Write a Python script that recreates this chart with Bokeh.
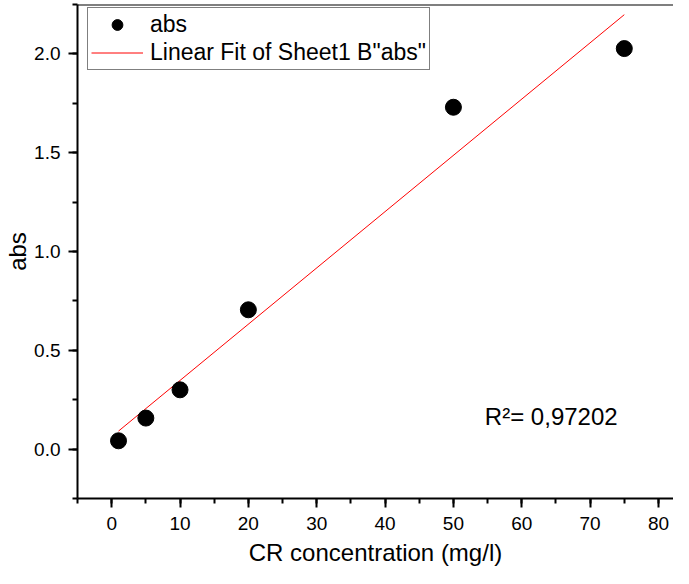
import numpy as np
from bokeh.plotting import figure
from bokeh.models import (ColumnDataSource, LinearAxis, SingleIntervalTicker, Span,
                          Legend, LegendItem, Label, Range1d, NumeralTickFormatter)
from bokeh.embed import file_html
from bokeh.resources import INLINE

# ---- data ----
conc = [1, 5, 10, 20, 50, 75]
absorb = [0.042, 0.157, 0.30, 0.705, 1.73, 2.027]
x_ticks_interval = 10
y_ticks_interval = 0.5
r2_text = "R\u00b2= 0,97202"
legend_labels = ["abs", 'Linear Fit of Sheet1 B"abs"']
x_title = "CR concentration (mg/l)"
y_title = "abs"

# linear fit from data
slope, intercept = np.polyfit(conc, absorb, 1)
fit_x = [min(conc), max(conc)]
fit_y = [slope * v + intercept for v in fit_x]

FONT = "Liberation Sans"

p = figure(width=673, height=568, output_backend="svg", toolbar_location=None,
           x_range=Range1d(-5, 82.2), y_range=Range1d(-0.25, 2.25),
           min_border_left=77, min_border_right=0, min_border_top=4, min_border_bottom=68,
           x_axis_location=None, y_axis_location=None)
p.grid.visible = False
p.outline_line_color = None
p.background_fill_color = "white"
p.border_fill_color = "white"

xaxis = LinearAxis(ticker=SingleIntervalTicker(interval=x_ticks_interval, num_minor_ticks=2),
                   axis_label=x_title)
yaxis = LinearAxis(ticker=SingleIntervalTicker(interval=y_ticks_interval, num_minor_ticks=2),
                   axis_label=y_title, formatter=NumeralTickFormatter(format="0.0"))
for ax in (xaxis, yaxis):
    ax.axis_line_width = 2
    ax.axis_line_color = "black"
    ax.major_tick_line_width = 2
    ax.minor_tick_line_width = 2
    ax.major_tick_line_color = "black"
    ax.minor_tick_line_color = "black"
    ax.major_tick_out = 9
    ax.major_tick_in = 0
    ax.minor_tick_out = 5
    ax.minor_tick_in = 0
    ax.major_label_text_font = FONT
    ax.major_label_text_font_size = "19px"
    ax.major_label_text_color = "black"
    ax.axis_label_text_font = FONT
    ax.axis_label_text_font_size = "24px"
    ax.axis_label_text_font_style = "normal"
    ax.axis_label_text_color = "black"
xaxis.major_label_standoff = 9
xaxis.axis_label_standoff = 6
yaxis.major_label_standoff = 8
yaxis.axis_label_standoff = 0
p.add_layout(xaxis, "below")
p.add_layout(yaxis, "left")

# top frame border
p.add_layout(Span(location=p.y_range.end, dimension="width",
                  line_color="black", line_width=2))

src = ColumnDataSource(dict(x=conc, y=absorb))
fit_src = ColumnDataSource(dict(x=fit_x, y=fit_y))
fit_r = p.line("x", "y", source=fit_src, line_color="#ff0000", line_width=1)
pts_r = p.scatter("x", "y", source=src, size=16, marker="circle",
                  fill_color="black", line_color="black")

legend = Legend(items=[LegendItem(label=legend_labels[0], renderers=[pts_r]),
                       LegendItem(label=legend_labels[1], renderers=[fit_r])],
                location=(10, 428))
legend.label_text_font = FONT
legend.label_text_font_size = "23px"
legend.label_text_color = "black"
legend.glyph_width = 52
legend.glyph_height = 27
legend.label_height = 27
legend.spacing = 1
legend.padding = 3
legend.margin = 0
legend.label_standoff = 7
legend.border_line_color = "black"
legend.border_line_width = 1
legend.background_fill_alpha = 1
p.add_layout(legend)

p.add_layout(Label(x=54.6, y=0.165, text=r2_text, text_font=FONT,
                   text_font_size="24px", text_color="black", text_baseline="alphabetic"))

open("out.html", "w").write(file_html(p, INLINE))
